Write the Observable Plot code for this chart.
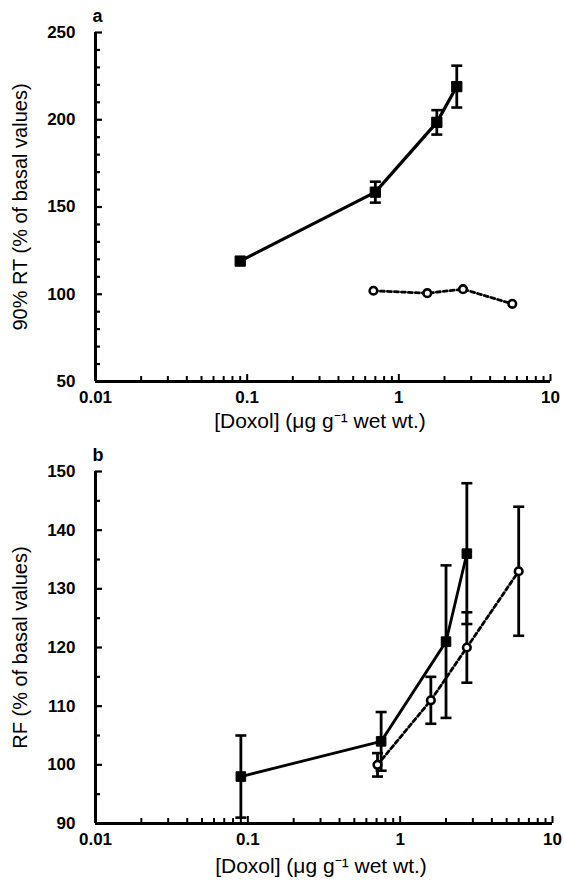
<!DOCTYPE html>
<html><head><meta charset="utf-8">
<script src="https://cdn.jsdelivr.net/npm/d3@7"></script>
<script src="https://cdn.jsdelivr.net/npm/@observablehq/plot@0.6"></script>
<style>body{margin:0;background:#fff;} #chart{width:564px;} svg{display:block}</style>
</head><body><div id="chart"></div><script>
// ---- Panel a: 90% RT ----
const doseA_filled = [0.09, 0.70, 1.78, 2.41];
const rtA_filled = [119, 158.5, 198.5, 219];
const rtA_filledErr = [0, 6, 7, 12];
const doseA_open = [0.68, 1.54, 2.65, 5.6];
const rtA_open = [102, 100.6, 102.9, 94.5];
// ---- Panel b: RF ----
const doseB_filled = [0.09, 0.75, 2.0, 2.74];
const rfB_filled = [98, 104, 121, 136];
const rfB_filledErr = [7, 5, 13, 12];
const doseB_open = [0.71, 1.59, 2.74, 6.0];
const rfB_open = [100, 111, 120, 133];
const rfB_openErr = [2, 4, 6, 11];
// ---- ticks & labels ----
const xTicks = [0.01, 0.1, 1, 10];
const xMinor = [0.02,0.03,0.04,0.05,0.06,0.07,0.08,0.09,0.2,0.3,0.4,0.5,0.6,0.7,0.8,0.9,2,3,4,5,6,7,8,9];
const yTicksA = [50, 100, 150, 200, 250];
const yMinorA = [60,70,80,90,110,120,130,140,160,170,180,190,210,220,230,240];
const yTicksB = [90, 100, 110, 120, 130, 140, 150];
const yMinorB = [95, 105, 115, 125, 135, 145];
const xTitle = "[Doxol] (\u03bcg g\u207b\u00b9 wet wt.)";
const yTitleA = "90% RT (% of basal values)";
const yTitleB = "RF (% of basal values)";
const panelLabels = ["a", "b"];

const capSymbol = {draw(ctx, size) { const w = Math.sqrt(size / Math.PI); ctx.moveTo(-w, 0); ctx.lineTo(w, 0); }};

function rows(xs, ys, es) { return xs.map((x, i) => ({x, y: ys[i], e: es ? es[i] : 0})); }

function panel({height, marginTop, marginBottom, marginRight, yDomain, yTicks, yMinor, yTitle, label, filled, open, sq, lw, titleDy}) {
  const fe = filled.filter(d => d.e > 0);
  const oe = open.filter(d => d.e > 0);
  return Plot.plot({
    width: 564, height, marginLeft: 95, marginRight, marginTop, marginBottom,
    style: {fontFamily: "'Liberation Sans', Arial, sans-serif", fontSize: "17px", color: "#000", background: "#fff", overflow: "visible"},
    x: {type: "log", domain: [0.01, 10]},
    y: {domain: yDomain},
    marks: [
      // labels
      Plot.axisX({ticks: xTicks, tickSize: 0, tickPadding: 9, tickFormat: d => String(d), fontWeight: "bold", label: null}),
      Plot.axisY({ticks: yTicks, tickSize: 0, tickPadding: 20, fontWeight: "bold", label: null}),
      // inward ticks
      Plot.axisX({ticks: xTicks, tickSize: 7, dy: -7, strokeWidth: 2, tickFormat: () => "", label: null}),
      Plot.axisX({ticks: xMinor, tickSize: 5, dy: -5, strokeWidth: 2, tickFormat: () => "", label: null}),
      Plot.axisY({ticks: yTicks, tickSize: 7, dx: 7, strokeWidth: 2.2, tickFormat: () => "", label: null}),
      Plot.axisY({ticks: yMinor, tickSize: 5, dx: 5, strokeWidth: 2.2, tickFormat: () => "", label: null}),
      Plot.ruleX([0.01], {strokeWidth: 3}),
      Plot.ruleY([yDomain[0]], {strokeWidth: 3}),
      Plot.text([xTitle], {frameAnchor: "bottom", dy: titleDy, dx: -3, fontSize: 21, lineAnchor: "middle"}),
      Plot.text([yTitle], {frameAnchor: "left", rotate: -90, dx: -75, fontSize: 20, textAnchor: "middle", lineAnchor: "middle"}),
      Plot.text([label], {frameAnchor: "top-left", dy: -16, dx: -3, fontSize: 18, fontWeight: "bold", lineAnchor: "middle"}),
      Plot.line(open, {x: "x", y: "y", stroke: "#000", strokeWidth: 2.8, strokeDasharray: "4,3"}),
      Plot.ruleX(oe, {x: "x", y1: d => d.y - d.e, y2: d => d.y + d.e, strokeWidth: 2.8}),
      Plot.dot(oe.flatMap(d => [{x: d.x, y: d.y - d.e}, {x: d.x, y: d.y + d.e}]), {x: "x", y: "y", symbol: capSymbol, r: 5.5, stroke: "#000", strokeWidth: 2.6, fill: "none"}),
      Plot.line(filled, {x: "x", y: "y", stroke: "#000", strokeWidth: lw}),
      Plot.ruleX(fe, {x: "x", y1: d => d.y - d.e, y2: d => d.y + d.e, strokeWidth: 2.8}),
      Plot.dot(fe.flatMap(d => [{x: d.x, y: d.y - d.e}, {x: d.x, y: d.y + d.e}]), {x: "x", y: "y", symbol: capSymbol, r: 5.5, stroke: "#000", strokeWidth: 2.6, fill: "none"}),
      Plot.dot(filled, {x: "x", y: "y", symbol: "square", r: sq, fill: "#000", stroke: "#000", strokeWidth: 1, strokeLinejoin: "round"}),
      Plot.dot(open, {x: "x", y: "y", r: 3.8, fill: "#fff", stroke: "#000", strokeWidth: 2.6})
    ]
  });
}

const chart = document.getElementById("chart");
chart.append(panel({
  height: 440, marginTop: 32, marginBottom: 59, marginRight: 14, titleDy: 40,
  yDomain: [50, 250], yTicks: yTicksA, yMinor: yMinorA, yTitle: yTitleA, label: panelLabels[0],
  filled: rows(doseA_filled, rtA_filled, rtA_filledErr), open: rows(doseA_open, rtA_open, null), sq: 5.8, lw: 3.2
}));
chart.append(panel({
  height: 450, marginTop: 31, marginBottom: 67, marginRight: 12, titleDy: 43,
  yDomain: [90, 150], yTicks: yTicksB, yMinor: yMinorB, yTitle: yTitleB, label: panelLabels[1],
  filled: rows(doseB_filled, rfB_filled, rfB_filledErr), open: rows(doseB_open, rfB_open, rfB_openErr), sq: 5.4, lw: 2.8
}));
</script></body></html>
